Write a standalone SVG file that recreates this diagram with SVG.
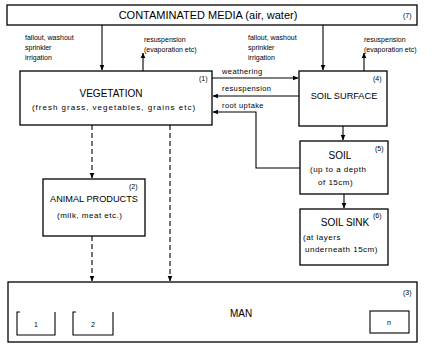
<svg xmlns="http://www.w3.org/2000/svg" width="435" height="344" viewBox="0 0 435 344">
<style>
.box{fill:none;stroke:#000;stroke-width:1.3}
.ln{fill:none;stroke:#000;stroke-width:1.1}
.dash{stroke-dasharray:5 3}
.t{font-family:"Liberation Sans",Arial,sans-serif;fill:#000}
.title{font-size:11px}
.h{font-size:10px}
.h2{font-size:9.2px}
.sub{font-size:8px;letter-spacing:0.5px}
.wide{letter-spacing:1px}
.s{font-size:7px}
.m{font-size:7.5px;letter-spacing:0.4px}
.n{font-size:7px}
</style>
<defs>
<marker id="ah" viewBox="0 0 6 6" refX="5.5" refY="3" markerWidth="5" markerHeight="5" orient="auto">
<path d="M0,0.5 L6,3 L0,5.5 Z" fill="#000"/>
</marker>
</defs>
<rect width="435" height="344" fill="#fff"/>

<g id="media">
<rect class="box" x="7" y="5" width="410" height="20"/>
<text class="t title" x="208" y="19" text-anchor="middle">CONTAMINATED MEDIA (air, water)</text>
<text class="t n" x="403" y="18">(7)</text>
</g>

<g id="vegetation">
<rect class="box" x="20" y="71" width="192" height="54"/>
<text class="t n" x="199" y="81">(1)</text>
<text class="t h" x="111" y="97" text-anchor="middle">VEGETATION</text>
<text class="t sub wide" x="114" y="110" text-anchor="middle">(fresh grass, vegetables, grains etc)</text>
</g>

<g id="soil-surface">
<rect class="box" x="299" y="71" width="88" height="55"/>
<text class="t n" x="373" y="81">(4)</text>
<text class="t h2" x="344" y="99" text-anchor="middle">SOIL SURFACE</text>
</g>

<g id="soil">
<rect class="box" x="300" y="141" width="88" height="53"/>
<text class="t n" x="375" y="151">(5)</text>
<text class="t h" x="340" y="159" text-anchor="middle">SOIL</text>
<text class="t sub" x="310" y="172">(up to a depth</text>
<text class="t sub" x="318" y="185">of 15cm)</text>
</g>

<g id="soil-sink">
<rect class="box" x="300" y="209" width="88" height="56"/>
<text class="t n" x="373" y="218">(6)</text>
<text class="t h" x="345" y="226" text-anchor="middle">SOIL SINK</text>
<text class="t sub" x="303" y="240">(at layers</text>
<text class="t sub" x="305" y="252">underneath 15cm)</text>
</g>

<g id="animal-products">
<rect class="box" x="43" y="179" width="102" height="57"/>
<text class="t n" x="129" y="189">(2)</text>
<text class="t h2" x="94" y="202" text-anchor="middle">ANIMAL PRODUCTS</text>
<text class="t sub" x="57" y="218">(milk, meat etc.)</text>
</g>

<g id="man">
<rect class="box" x="8" y="282" width="409" height="60"/>
<text class="t n" x="403" y="295">(3)</text>
<text class="t h" x="241" y="317" text-anchor="middle">MAN</text>
<path class="ln" d="M20,312 H17 V335 H55 V312"/>
<text class="t s" x="36" y="327" text-anchor="middle">1</text>
<path class="ln" d="M76,312 H73 V335 H113 V312"/>
<text class="t s" x="93" y="327" text-anchor="middle">2</text>
<rect class="ln" x="370" y="311" width="39" height="22"/>
<text class="t s" x="389" y="325" text-anchor="middle">n</text>
</g>

<g id="connectors">
<line class="ln" x1="102" y1="25" x2="102" y2="70" marker-end="url(#ah)"/>
<line class="ln" x1="143" y1="71" x2="143" y2="53" marker-end="url(#ah)"/>
<line class="ln" x1="323" y1="25" x2="323" y2="70" marker-end="url(#ah)"/>
<line class="ln" x1="364" y1="71" x2="364" y2="53" marker-end="url(#ah)"/>
<line class="ln" x1="212" y1="78" x2="298" y2="78" marker-end="url(#ah)"/>
<line class="ln" x1="299" y1="96" x2="213" y2="96" marker-end="url(#ah)"/>
<path class="ln" d="M300,168 H256 V112 H213" marker-end="url(#ah)"/>
<line class="ln" x1="343" y1="126" x2="343" y2="140" marker-end="url(#ah)"/>
<line class="ln" x1="344" y1="194" x2="344" y2="208" marker-end="url(#ah)"/>
<line class="ln dash" x1="92" y1="125" x2="92" y2="178" marker-end="url(#ah)"/>
<line class="ln dash" x1="170" y1="125" x2="170" y2="281" marker-end="url(#ah)"/>
<line class="ln dash" x1="92" y1="236" x2="92" y2="281" marker-end="url(#ah)"/>
</g>

<g id="labels">
<text class="t s" x="25" y="40">fallout, washout</text>
<text class="t s" x="25" y="50">sprinkler</text>
<text class="t s" x="25" y="60">irrigation</text>
<text class="t s" x="144" y="42">resuspension</text>
<text class="t s" x="144" y="52">(evaporation etc)</text>
<text class="t s" x="248" y="40">fallout, washout</text>
<text class="t s" x="248" y="50">sprinkler</text>
<text class="t s" x="248" y="60">irrigation</text>
<text class="t s" x="364" y="42">resuspension</text>
<text class="t s" x="364" y="52">(evaporation etc)</text>
<text class="t m" x="222" y="74">weathering</text>
<text class="t m" x="222" y="91">resuspension</text>
<text class="t m" x="222" y="108">root uptake</text>
</g>
</svg>
